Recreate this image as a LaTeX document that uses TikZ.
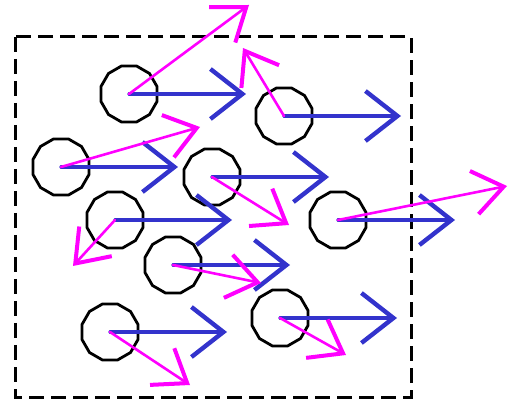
\documentclass[tikz,border=0pt]{standalone}
\usetikzlibrary{shapes.geometric,arrows.meta}
\definecolor{velblue}{RGB}{51,51,204}
\definecolor{forcemag}{RGB}{255,0,255}
\begin{document}
\begin{tikzpicture}[x=0.5pt,y=-0.5pt,
  ball/.style={draw, regular polygon, regular polygon sides=12, minimum size=29pt, inner sep=0pt, line width=1.4pt},
  vel/.style={draw=velblue, line width=1.6pt, line cap=round, line join=round, -{Straight Barb[length=16pt,width=25pt,line width=2.2pt]}},
  force/.style={draw=forcemag, line width=1.3pt, line cap=round, line join=round, -{Straight Barb[length=15pt,width=22pt,line width=2pt]}}]
\useasboundingbox (0,0) rectangle (508,400);

  % Box
  \draw[line width=1.5pt, dash pattern=on 7.5pt off 3.5pt] (15,37) rectangle (411,397);

  % Particles and velocity arrows
  \foreach \n/\x/\y in {1/129/94, 2/284/116, 3/61/167, 4/212/177, 5/115/220,
                        6/173/265, 7/338/220, 8/110/332, 9/280/318} {
    \node[ball] (c\n) at (\x,\y) {};
    \coordinate (v\n) at (\x+117,\y);
    \draw[vel] (c\n.center) -- (v\n);
  }

  % Force arrows
  \foreach \n/\x/\y in {1/249/5, 2/243/48, 3/200/127, 4/289/225, 5/73/266,
                        6/261/283, 7/507/186, 8/190/385, 9/346/355} {
    \coordinate (f\n) at (\x,\y);
    \draw[force] (c\n.center) -- (f\n);
  }
\end{tikzpicture}
\end{document}
